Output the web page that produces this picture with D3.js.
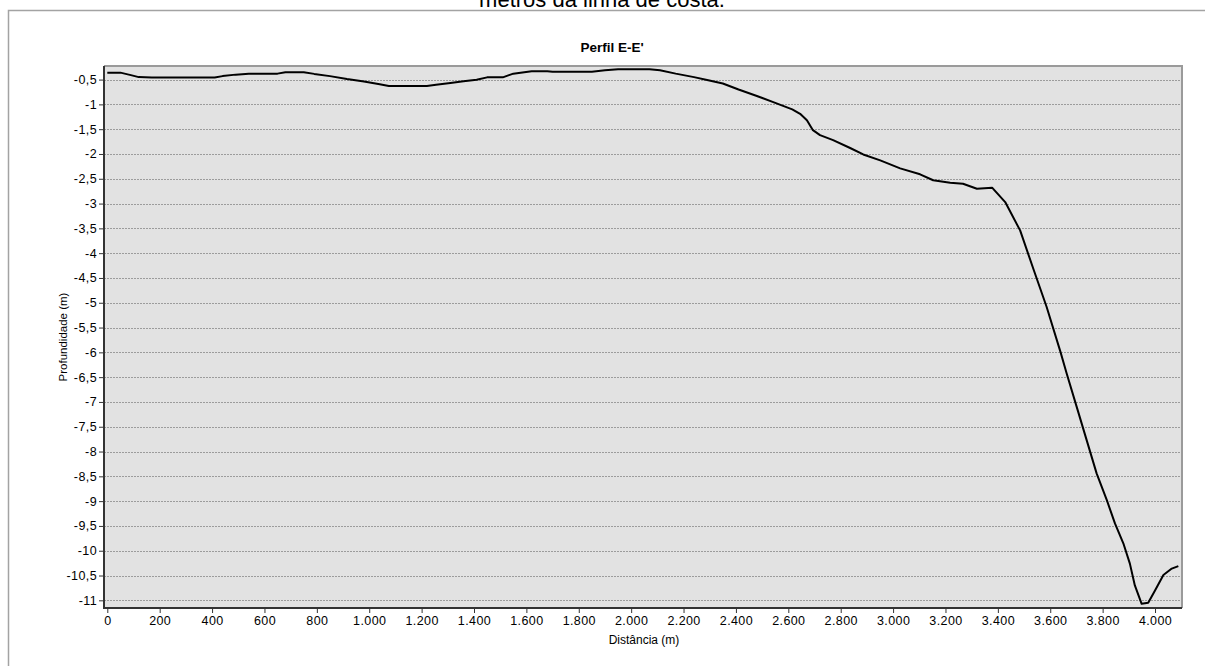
<!DOCTYPE html>
<html>
<head>
<meta charset="utf-8">
<script src="https://cdn.jsdelivr.net/npm/d3@7"></script>
<style>
  html, body { margin: 0; padding: 0; background: #ffffff; }
  svg { display: block; }
  text { font-family: Arial, "Liberation Sans", sans-serif; fill: #000; }
</style>
</head>
<body>
<svg id="chart" width="1205" height="666"></svg>
<script>
// Perfil E-E': profundidade ao longo da distância
const distancia = [0, 50, 90, 120, 170, 410, 440, 490, 540, 650, 680, 750, 790, 850, 915, 980,
  1040, 1075, 1220, 1255, 1310, 1360, 1410, 1450, 1510, 1550, 1620, 1680, 1700, 1850, 1900,
  1950, 2070, 2110, 2170, 2240, 2290, 2350, 2410, 2480, 2540, 2615, 2645, 2671, 2694, 2721,
  2771, 2836, 2886, 2951, 3027, 3103, 3153, 3218, 3267, 3320, 3378, 3428, 3485, 3535, 3586,
  3639, 3663, 3701, 3739, 3777, 3816, 3847, 3879, 3904, 3923, 3949, 3974, 4000, 4032, 4064, 4089];
const profundidade = [-0.36, -0.36, -0.41, -0.45, -0.46, -0.46, -0.43, -0.40, -0.38, -0.38, -0.35,
  -0.35, -0.385, -0.43, -0.49, -0.54, -0.595, -0.63, -0.63, -0.605, -0.57, -0.535, -0.505,
  -0.455, -0.455, -0.38, -0.33, -0.33, -0.34, -0.34, -0.31, -0.29, -0.29, -0.31, -0.38, -0.45,
  -0.51, -0.58, -0.70, -0.83, -0.95, -1.10, -1.19, -1.32, -1.52, -1.62, -1.72, -1.88, -2.01,
  -2.13, -2.29, -2.41, -2.53, -2.58, -2.60, -2.70, -2.68, -2.97, -3.54, -4.31, -5.08, -5.99,
  -6.43, -7.10, -7.77, -8.44, -8.98, -9.45, -9.85, -10.26, -10.70, -11.07, -11.05, -10.80,
  -10.49, -10.36, -10.31];

const xTicks = d3.range(0, 4001, 200);
const yTicks = d3.range(-0.5, -11.01, -0.5);

const titulo = "Perfil E-E'";
const tituloX = "Distância (m)";
const tituloY = "Profundidade (m)";
const legendaTopo = "metros da linha de costa.";

// pt-BR number formatting: comma decimal, dot thousands, plain hyphen minus
const ptBR = d3.formatLocale({ decimal: ",", thousands: ".", grouping: [3], currency: ["R$", ""], minus: "-" });
const fmtX = ptBR.format(",d");
const fmtY = ptBR.format("~g");

const svg = d3.select("#chart");
const plot = { left: 104, right: 1182, top: 66, bottom: 608 };

const x = d3.scaleLinear().domain([-12.6, 4103]).range([plot.left, plot.right]);
const y = d3.scaleLinear().domain([-0.226, -11.155]).range([plot.top, plot.bottom]);

// caption text running above the panel
svg.append("text")
  .attr("x", 602).attr("y", 7)
  .attr("text-anchor", "middle")
  .style("font-size", "22px")
  .text(legendaTopo);

// outer frame of the chart panel
svg.append("path")
  .attr("d", "M8.5,700 L8.5,10.5 L1220,10.5")
  .attr("fill", "none")
  .attr("stroke", "#a3a3a3")
  .attr("stroke-width", 1.5);

// plot area background
svg.append("rect")
  .attr("x", plot.left).attr("y", plot.top)
  .attr("width", plot.right - plot.left).attr("height", plot.bottom - plot.top)
  .attr("fill", "#e2e2e2");

// horizontal dotted gridlines
svg.append("g")
  .selectAll("line")
  .data(yTicks)
  .join("line")
  .attr("x1", plot.left).attr("x2", plot.right)
  .attr("y1", d => Math.round(y(d)) + 0.5).attr("y2", d => Math.round(y(d)) + 0.5)
  .attr("stroke", "#9c9c9c")
  .attr("stroke-width", 1)
  .attr("stroke-dasharray", "2,1");

// top and right frame of the plot
svg.append("path")
  .attr("d", `M${plot.left},${plot.top} L${plot.right},${plot.top} L${plot.right},${plot.bottom}`)
  .attr("fill", "none")
  .attr("stroke", "#9a9a9a")
  .attr("stroke-width", 2);

// profile line
const pts = distancia.map((d, i) => [d, profundidade[i]]);
const line = d3.line().x(d => x(d[0])).y(d => y(d[1]));
svg.append("path")
  .datum(pts)
  .attr("d", line)
  .attr("fill", "none")
  .attr("stroke", "#000")
  .attr("stroke-width", 2)
  .attr("stroke-linejoin", "round");

// y axis
const yAxis = svg.append("g")
  .attr("transform", `translate(${plot.left},0)`)
  .call(d3.axisLeft(y).tickValues(yTicks).tickFormat(fmtY).tickSize(5).tickSizeOuter(0).tickPadding(2));
yAxis.select(".domain").remove();
yAxis.append("line")
  .attr("x1", 0).attr("x2", 0).attr("y1", plot.top).attr("y2", plot.bottom + 1)
  .attr("stroke", "#333").attr("stroke-width", 2);
yAxis.selectAll(".tick line").attr("stroke", "#333");
yAxis.selectAll(".tick text")
  .style("font-size", "12.5px").style("letter-spacing", "0.4px")
  .style("font-family", "Arial, 'Liberation Sans', sans-serif")
  .attr("fill", "#000");

// x axis
const xAxis = svg.append("g")
  .attr("transform", `translate(0,${plot.bottom})`)
  .call(d3.axisBottom(x).tickValues(xTicks).tickFormat(fmtX).tickSize(5).tickSizeOuter(0).tickPadding(3));
xAxis.select(".domain").remove();
xAxis.append("line")
  .attr("x1", plot.left - 1).attr("x2", plot.right).attr("y1", 0).attr("y2", 0)
  .attr("stroke", "#333").attr("stroke-width", 2);
xAxis.selectAll(".tick line").attr("stroke", "#333");
xAxis.selectAll(".tick text")
  .style("font-size", "12.5px").style("letter-spacing", "0.4px")
  .style("font-family", "Arial, 'Liberation Sans', sans-serif")
  .attr("fill", "#000");

// titles
svg.append("text")
  .attr("x", 612).attr("y", 52)
  .attr("text-anchor", "middle")
  .style("font-size", "13.5px").style("font-weight", "bold")
  .text(titulo);

svg.append("text")
  .attr("x", 644).attr("y", 644)
  .attr("text-anchor", "middle")
  .style("font-size", "12px")
  .text(tituloX);

svg.append("text")
  .attr("transform", "translate(67,337) rotate(-90)")
  .attr("text-anchor", "middle")
  .style("font-size", "11.5px")
  .text(tituloY);
</script>
</body>
</html>
